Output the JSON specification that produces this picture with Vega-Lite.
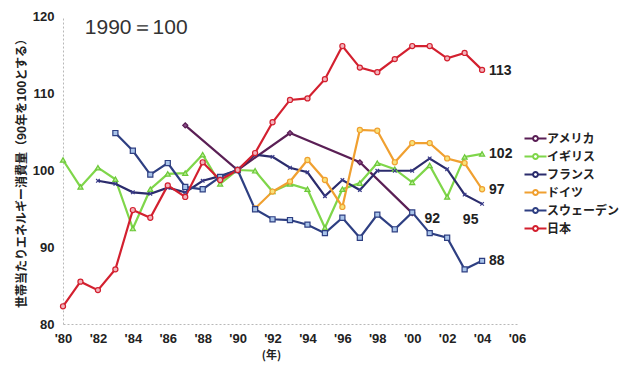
{
  "$schema": "https://vega.github.io/schema/vega-lite/v6.json",
  "width": 454,
  "height": 308,
  "autosize": {"type": "none"},
  "padding": {"left": 63, "top": 16, "right": 114, "bottom": 42},
  "background": "white",
  "config": {"view": {"stroke": null}, "font": "Liberation Sans", "axis": {"labelOverlap": false}},
  "datasets": {
    "series": [
      {"c": "アメリカ", "yr": 1987, "v": 105.8},
      {"c": "アメリカ", "yr": 1990, "v": 100},
      {"c": "アメリカ", "yr": 1993, "v": 104.8},
      {"c": "アメリカ", "yr": 1997, "v": 101.0},
      {"c": "アメリカ", "yr": 2000, "v": 94.4},

      {"c": "イギリス", "yr": 1980, "v": 101.3},
      {"c": "イギリス", "yr": 1981, "v": 97.8},
      {"c": "イギリス", "yr": 1982, "v": 100.3},
      {"c": "イギリス", "yr": 1983, "v": 98.8},
      {"c": "イギリス", "yr": 1984, "v": 92.4},
      {"c": "イギリス", "yr": 1985, "v": 97.5},
      {"c": "イギリス", "yr": 1986, "v": 99.5},
      {"c": "イギリス", "yr": 1987, "v": 99.6},
      {"c": "イギリス", "yr": 1988, "v": 102.0},
      {"c": "イギリス", "yr": 1989, "v": 98.2},
      {"c": "イギリス", "yr": 1990, "v": 100},
      {"c": "イギリス", "yr": 1991, "v": 99.9},
      {"c": "イギリス", "yr": 1992, "v": 97.2},
      {"c": "イギリス", "yr": 1993, "v": 98.2},
      {"c": "イギリス", "yr": 1994, "v": 97.5},
      {"c": "イギリス", "yr": 1995, "v": 92.5},
      {"c": "イギリス", "yr": 1996, "v": 97.5},
      {"c": "イギリス", "yr": 1997, "v": 98.3},
      {"c": "イギリス", "yr": 1998, "v": 100.9},
      {"c": "イギリス", "yr": 1999, "v": 100.1},
      {"c": "イギリス", "yr": 2000, "v": 98.4},
      {"c": "イギリス", "yr": 2001, "v": 100.6},
      {"c": "イギリス", "yr": 2002, "v": 96.5},
      {"c": "イギリス", "yr": 2003, "v": 101.7},
      {"c": "イギリス", "yr": 2004, "v": 102.1},

      {"c": "フランス", "yr": 1982, "v": 98.6},
      {"c": "フランス", "yr": 1983, "v": 98.2},
      {"c": "フランス", "yr": 1984, "v": 97.1},
      {"c": "フランス", "yr": 1985, "v": 96.9},
      {"c": "フランス", "yr": 1986, "v": 97.7},
      {"c": "フランス", "yr": 1987, "v": 97.1},
      {"c": "フランス", "yr": 1988, "v": 98.6},
      {"c": "フランス", "yr": 1989, "v": 99.2},
      {"c": "フランス", "yr": 1990, "v": 100},
      {"c": "フランス", "yr": 1991, "v": 102.0},
      {"c": "フランス", "yr": 1992, "v": 101.7},
      {"c": "フランス", "yr": 1993, "v": 100.3},
      {"c": "フランス", "yr": 1994, "v": 99.7},
      {"c": "フランス", "yr": 1995, "v": 96.6},
      {"c": "フランス", "yr": 1996, "v": 98.7},
      {"c": "フランス", "yr": 1997, "v": 97.4},
      {"c": "フランス", "yr": 1998, "v": 99.9},
      {"c": "フランス", "yr": 1999, "v": 99.9},
      {"c": "フランス", "yr": 2000, "v": 99.9},
      {"c": "フランス", "yr": 2001, "v": 101.5},
      {"c": "フランス", "yr": 2002, "v": 100.1},
      {"c": "フランス", "yr": 2003, "v": 96.8},
      {"c": "フランス", "yr": 2004, "v": 95.6},

      {"c": "ドイツ", "yr": 1991, "v": 95.0},
      {"c": "ドイツ", "yr": 1992, "v": 97.2},
      {"c": "ドイツ", "yr": 1993, "v": 98.5},
      {"c": "ドイツ", "yr": 1994, "v": 101.3},
      {"c": "ドイツ", "yr": 1995, "v": 98.7},
      {"c": "ドイツ", "yr": 1996, "v": 95.2},
      {"c": "ドイツ", "yr": 1997, "v": 105.2},
      {"c": "ドイツ", "yr": 1998, "v": 105.1},
      {"c": "ドイツ", "yr": 1999, "v": 101.0},
      {"c": "ドイツ", "yr": 2000, "v": 103.5},
      {"c": "ドイツ", "yr": 2001, "v": 103.5},
      {"c": "ドイツ", "yr": 2002, "v": 101.5},
      {"c": "ドイツ", "yr": 2003, "v": 100.9},
      {"c": "ドイツ", "yr": 2004, "v": 97.5},

      {"c": "スウェーデン", "yr": 1983, "v": 104.8},
      {"c": "スウェーデン", "yr": 1984, "v": 102.5},
      {"c": "スウェーデン", "yr": 1985, "v": 99.4},
      {"c": "スウェーデン", "yr": 1986, "v": 100.9},
      {"c": "スウェーデン", "yr": 1987, "v": 97.8},
      {"c": "スウェーデン", "yr": 1988, "v": 97.5},
      {"c": "スウェーデン", "yr": 1989, "v": 99.1},
      {"c": "スウェーデン", "yr": 1990, "v": 100},
      {"c": "スウェーデン", "yr": 1991, "v": 94.9},
      {"c": "スウェーデン", "yr": 1992, "v": 93.6},
      {"c": "スウェーデン", "yr": 1993, "v": 93.5},
      {"c": "スウェーデン", "yr": 1994, "v": 92.9},
      {"c": "スウェーデン", "yr": 1995, "v": 91.8},
      {"c": "スウェーデン", "yr": 1996, "v": 93.8},
      {"c": "スウェーデン", "yr": 1997, "v": 91.2},
      {"c": "スウェーデン", "yr": 1998, "v": 94.2},
      {"c": "スウェーデン", "yr": 1999, "v": 92.3},
      {"c": "スウェーデン", "yr": 2000, "v": 94.5},
      {"c": "スウェーデン", "yr": 2001, "v": 91.8},
      {"c": "スウェーデン", "yr": 2002, "v": 91.2},
      {"c": "スウェーデン", "yr": 2003, "v": 87.1},
      {"c": "スウェーデン", "yr": 2004, "v": 88.2},

      {"c": "日本", "yr": 1980, "v": 82.3},
      {"c": "日本", "yr": 1981, "v": 85.5},
      {"c": "日本", "yr": 1982, "v": 84.4},
      {"c": "日本", "yr": 1983, "v": 87.1},
      {"c": "日本", "yr": 1984, "v": 94.8},
      {"c": "日本", "yr": 1985, "v": 93.8},
      {"c": "日本", "yr": 1986, "v": 98.0},
      {"c": "日本", "yr": 1987, "v": 96.5},
      {"c": "日本", "yr": 1988, "v": 101.0},
      {"c": "日本", "yr": 1989, "v": 98.7},
      {"c": "日本", "yr": 1990, "v": 100},
      {"c": "日本", "yr": 1991, "v": 102.2},
      {"c": "日本", "yr": 1992, "v": 106.2},
      {"c": "日本", "yr": 1993, "v": 109.1},
      {"c": "日本", "yr": 1994, "v": 109.3},
      {"c": "日本", "yr": 1995, "v": 111.8},
      {"c": "日本", "yr": 1996, "v": 116.1},
      {"c": "日本", "yr": 1997, "v": 113.3},
      {"c": "日本", "yr": 1998, "v": 112.7},
      {"c": "日本", "yr": 1999, "v": 114.4},
      {"c": "日本", "yr": 2000, "v": 116.1},
      {"c": "日本", "yr": 2001, "v": 116.1},
      {"c": "日本", "yr": 2002, "v": 114.5},
      {"c": "日本", "yr": 2003, "v": 115.2},
      {"c": "日本", "yr": 2004, "v": 113.0}
    ],
    "labels": [
      {"yr": 2004.4, "v": 112.9, "t": "113"},
      {"yr": 2004.4, "v": 102.1, "t": "102"},
      {"yr": 2004.4, "v": 97.4, "t": "97"},
      {"yr": 2002.9, "v": 93.5, "t": "95"},
      {"yr": 2000.7, "v": 93.7, "t": "92"},
      {"yr": 2004.4, "v": 88.2, "t": "88"}
    ],
    "note": [
      {"yr": 1981.25, "v": 118.5, "t": "1990＝100"}
    ]
  },
  "encoding": {
    "x": {
      "field": "yr", "type": "quantitative",
      "scale": {"domain": [1980, 2006], "nice": false, "zero": false},
      "axis": {
        "values": [1980, 1982, 1984, 1986, 1988, 1990, 1992, 1994, 1996, 1998, 2000, 2002, 2004, 2006],
        "labelExpr": "\"'\" + slice(toString(datum.value), 2)",
        "labelOverlap": false, "labelFlush": false,
        "grid": false, "ticks": false,
        "domainColor": "#b8b8b8", "domainDash": [2, 2], "domainWidth": 1,
        "labelFont": "Liberation Sans", "labelFontSize": 13, "labelFontWeight": "bold", "labelColor": "#222",
        "labelPadding": 8,
        "title": "(年)", "titleFont": "Noto Sans CJK JP", "titleFontSize": 11, "titleFontWeight": "bold", "titleColor": "#222",
        "titleX": 208, "titleY": 31, "titleBaseline": "middle"
      }
    },
    "y": {
      "field": "v", "type": "quantitative",
      "scale": {"domain": [80, 120], "nice": false, "zero": false},
      "axis": {
        "values": [80, 90, 100, 110, 120],
        "labelOverlap": false, "labelFlush": false,
        "grid": false, "ticks": false,
        "domainColor": "#b8b8b8", "domainDash": [2, 2], "domainWidth": 1,
        "labelFont": "Liberation Sans", "labelFontSize": 13, "labelFontWeight": "bold", "labelColor": "#222",
        "labelPadding": 9,
        "title": "世帯当たりエネルギー消費量（90年を100とする）",
        "titleFont": "Noto Sans CJK JP", "titleFontSize": 12, "titleFontWeight": "bold", "titleColor": "#222",
        "titleX": -42, "titleBaseline": "middle", "titleAngle": -90
      }
    }
  },
  "layer": [
    {
      "data": {"name": "series"},
      "mark": {"type": "line", "strokeWidth": 2.2},
      "encoding": {
        "color": {
          "field": "c", "type": "nominal",
          "scale": {
            "domain": ["アメリカ", "イギリス", "フランス", "ドイツ", "スウェーデン", "日本"],
            "range": ["#5a1f55", "#7fd64a", "#2b2c6c", "#f0a030", "#2e3f82", "#d3202f"]
          },
          "legend": {
            "orient": "none", "legendX": 466, "legendY": 116,
            "title": null, "padding": 0,
            "symbolType": "M-2,0H-0.45M0.45,0H2M-0.45,0A0.45,0.45 0 1 0 0.45,0A0.45,0.45 0 1 0 -0.45,0",
            "symbolSize": 121, "symbolStrokeWidth": 2,
            "labelFont": "Noto Sans CJK JP", "labelFontSize": 12, "labelFontWeight": "bold", "labelColor": "#222",
            "labelOffset": 5, "rowPadding": 5
          }
        }
      }
    },
    {
      "data": {"name": "series"},
      "mark": {"type": "point", "filled": true, "strokeWidth": 1.2, "opacity": 1},
      "encoding": {
        "shape": {
          "field": "c", "type": "nominal",
          "scale": {
            "domain": ["日本", "スウェーデン", "ドイツ", "フランス", "イギリス", "アメリカ"],
            "range": ["circle", "square", "circle", "M-0.7,-0.7L0.7,0.7M-0.7,0.7L0.7,-0.7", "triangle-up", "diamond"]
          },
          "legend": null
        },
        "stroke": {
          "field": "c", "type": "nominal",
          "scale": {
            "domain": ["スウェーデン", "日本", "ドイツ", "フランス", "イギリス", "アメリカ"],
            "range": ["#2e3f82", "#d3202f", "#f0a030", "#3a3c8a", "#6cc83a", "#5a1f55"]
          },
          "legend": null
        },
        "fill": {
          "field": "c", "type": "nominal",
          "scale": {
            "domain": ["ドイツ", "日本", "スウェーデン", "フランス", "イギリス", "アメリカ"],
            "range": ["#f7e27a", "#f2b4bc", "#a9c4ea", "#3a3c8a", "#b8ee90", "#8a4a88"]
          },
          "legend": null
        },
        "size": {"value": 26}
      }
    },
    {
      "data": {"name": "labels"},
      "mark": {"type": "text", "align": "left", "baseline": "middle", "font": "Liberation Sans", "fontSize": 14, "fontWeight": "bold", "color": "#222"},
      "encoding": {
        "text": {"field": "t"}
      }
    },
    {
      "data": {"name": "note"},
      "mark": {"type": "text", "align": "left", "baseline": "middle", "font": "Liberation Sans", "fontSize": 21, "fontWeight": "normal", "color": "#333"},
      "encoding": {
        "text": {"field": "t"}
      }
    }
  ]
}
